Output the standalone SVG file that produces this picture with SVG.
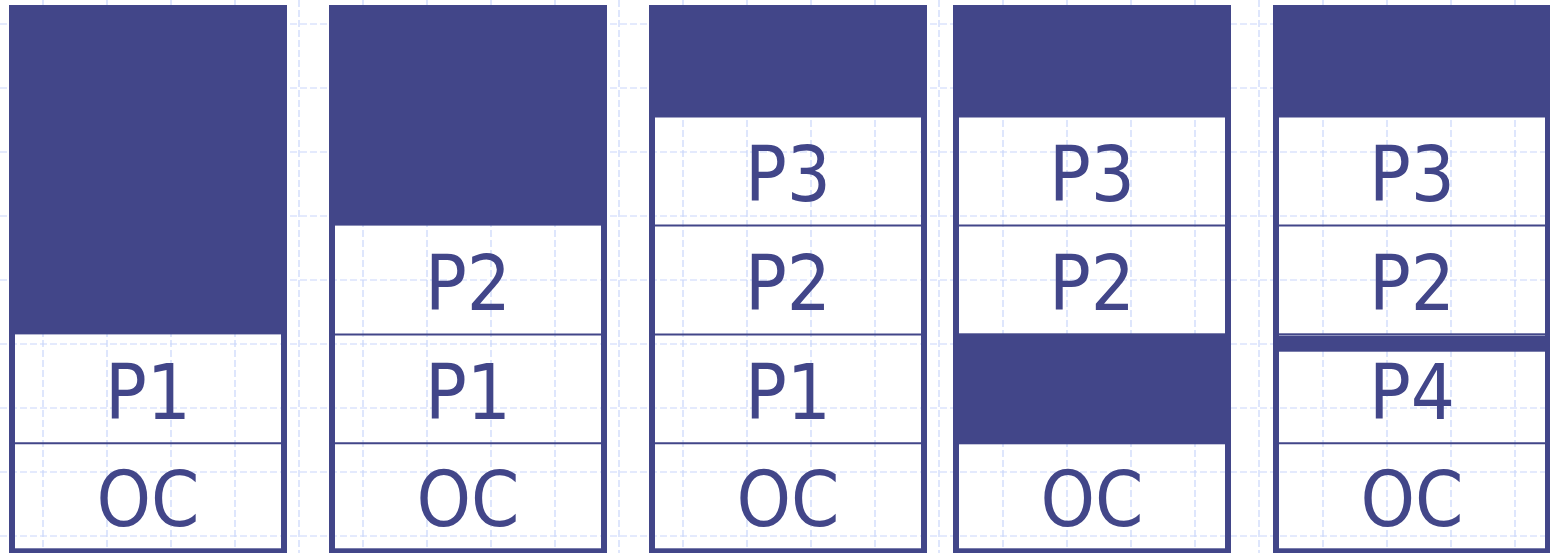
<svg xmlns="http://www.w3.org/2000/svg" width="1550" height="553" viewBox="0 0 1550 553">
<style>
.grid line{stroke:#c9d6fb;stroke-width:1.2;stroke-dasharray:7 3;fill:none}
.dark{fill:#424689}
.frame{fill:none;stroke:#424689;stroke-width:6}
.div{stroke:#424689;stroke-width:2}
.hl{stroke:#8d91bd;stroke-width:1}
.lbl{font-family:"DejaVu Sans","Liberation Sans",sans-serif;font-size:76px;fill:#424689;text-anchor:middle}
</style>
<rect width="1550" height="553" fill="#ffffff"/>
<g id="grid" class="grid">
<line x1="0" y1="24" x2="1550" y2="24"/>
<line x1="0" y1="88" x2="1550" y2="88"/>
<line x1="0" y1="152" x2="1550" y2="152"/>
<line x1="0" y1="216" x2="1550" y2="216"/>
<line x1="0" y1="280" x2="1550" y2="280"/>
<line x1="0" y1="344" x2="1550" y2="344"/>
<line x1="0" y1="408" x2="1550" y2="408"/>
<line x1="0" y1="472" x2="1550" y2="472"/>
<line x1="0" y1="536" x2="1550" y2="536"/>
<line x1="43" y1="0" x2="43" y2="553"/>
<line x1="107" y1="0" x2="107" y2="553"/>
<line x1="171" y1="0" x2="171" y2="553"/>
<line x1="235" y1="0" x2="235" y2="553"/>
<line x1="299" y1="0" x2="299" y2="553"/>
<line x1="363" y1="0" x2="363" y2="553"/>
<line x1="427" y1="0" x2="427" y2="553"/>
<line x1="491" y1="0" x2="491" y2="553"/>
<line x1="555" y1="0" x2="555" y2="553"/>
<line x1="619" y1="0" x2="619" y2="553"/>
<line x1="683" y1="0" x2="683" y2="553"/>
<line x1="747" y1="0" x2="747" y2="553"/>
<line x1="811" y1="0" x2="811" y2="553"/>
<line x1="875" y1="0" x2="875" y2="553"/>
<line x1="939" y1="0" x2="939" y2="553"/>
<line x1="1003" y1="0" x2="1003" y2="553"/>
<line x1="1067" y1="0" x2="1067" y2="553"/>
<line x1="1131" y1="0" x2="1131" y2="553"/>
<line x1="1195" y1="0" x2="1195" y2="553"/>
<line x1="1259" y1="0" x2="1259" y2="553"/>
<line x1="1323" y1="0" x2="1323" y2="553"/>
<line x1="1387" y1="0" x2="1387" y2="553"/>
<line x1="1451" y1="0" x2="1451" y2="553"/>
<line x1="1515" y1="0" x2="1515" y2="553"/>
</g>

<g id="col1">
<g id="col1-free"><rect class="dark" x="9" y="5" width="278" height="329.4"/></g>
<g id="col1-p1"><text class="lbl" x="148" y="419" textLength="86" lengthAdjust="spacingAndGlyphs">P1</text></g>
<line class="div" x1="12" y1="443.2" x2="284" y2="443.2"/>
<g id="col1-oc"><text class="lbl" x="148" y="526" textLength="103" lengthAdjust="spacingAndGlyphs">OC</text></g>
<rect class="frame" x="12" y="8" width="272" height="543.3"/>
</g>

<g id="col2">
<g id="col2-free"><rect class="dark" x="329" y="5" width="278" height="220.6"/></g>
<g id="col2-p2"><text class="lbl" x="468" y="310" textLength="86" lengthAdjust="spacingAndGlyphs">P2</text></g>
<line class="div" x1="332" y1="334.4" x2="604" y2="334.4"/>
<g id="col2-p1"><text class="lbl" x="468" y="419" textLength="86" lengthAdjust="spacingAndGlyphs">P1</text></g>
<line class="div" x1="332" y1="443.2" x2="604" y2="443.2"/>
<g id="col2-oc"><text class="lbl" x="468" y="526" textLength="103" lengthAdjust="spacingAndGlyphs">OC</text></g>
<rect class="frame" x="332" y="8" width="272" height="543.3"/>
</g>

<g id="col3">
<g id="col3-free"><rect class="dark" x="649" y="5" width="278" height="112.5"/></g>
<g id="col3-p3"><text class="lbl" x="788" y="201" textLength="86" lengthAdjust="spacingAndGlyphs">P3</text></g>
<line class="div" x1="652" y1="225.6" x2="924" y2="225.6"/>
<g id="col3-p2"><text class="lbl" x="788" y="310" textLength="86" lengthAdjust="spacingAndGlyphs">P2</text></g>
<line class="div" x1="652" y1="334.4" x2="924" y2="334.4"/>
<g id="col3-p1"><text class="lbl" x="788" y="419" textLength="86" lengthAdjust="spacingAndGlyphs">P1</text></g>
<line class="div" x1="652" y1="443.2" x2="924" y2="443.2"/>
<g id="col3-oc"><text class="lbl" x="788" y="526" textLength="103" lengthAdjust="spacingAndGlyphs">OC</text></g>
<rect class="frame" x="652" y="8" width="272" height="543.3"/>
</g>

<g id="col4">
<g id="col4-free"><rect class="dark" x="953" y="5" width="278" height="112.5"/></g>
<g id="col4-p3"><text class="lbl" x="1092" y="201" textLength="86" lengthAdjust="spacingAndGlyphs">P3</text></g>
<line class="div" x1="956" y1="225.6" x2="1228" y2="225.6"/>
<g id="col4-p2"><text class="lbl" x="1092" y="310" textLength="86" lengthAdjust="spacingAndGlyphs">P2</text></g>
<g id="col4-hole"><rect class="dark" x="953" y="333.3" width="278" height="111"/></g>
<g id="col4-oc"><text class="lbl" x="1092" y="526" textLength="103" lengthAdjust="spacingAndGlyphs">OC</text></g>
<rect class="frame" x="956" y="8" width="272" height="543.3"/>
</g>

<g id="col5">
<g id="col5-free"><rect class="dark" x="1273" y="5" width="278" height="112.5"/></g>
<g id="col5-p3"><text class="lbl" x="1412" y="201" textLength="86" lengthAdjust="spacingAndGlyphs">P3</text></g>
<line class="div" x1="1276" y1="225.6" x2="1548" y2="225.6"/>
<g id="col5-p2"><text class="lbl" x="1412" y="310" textLength="86" lengthAdjust="spacingAndGlyphs">P2</text></g>
<g id="col5-hole"><rect class="dark" x="1273" y="333.3" width="278" height="18.4"/>
<line class="hl" x1="1279" y1="335.5" x2="1545" y2="335.5"/></g>
<g id="col5-p4"><text class="lbl" x="1412" y="419" textLength="86" lengthAdjust="spacingAndGlyphs">P4</text></g>
<line class="div" x1="1276" y1="443.2" x2="1548" y2="443.2"/>
<g id="col5-oc"><text class="lbl" x="1412" y="526" textLength="103" lengthAdjust="spacingAndGlyphs">OC</text></g>
<rect class="frame" x="1276" y="8" width="272" height="543.3"/>
</g>
</svg>
